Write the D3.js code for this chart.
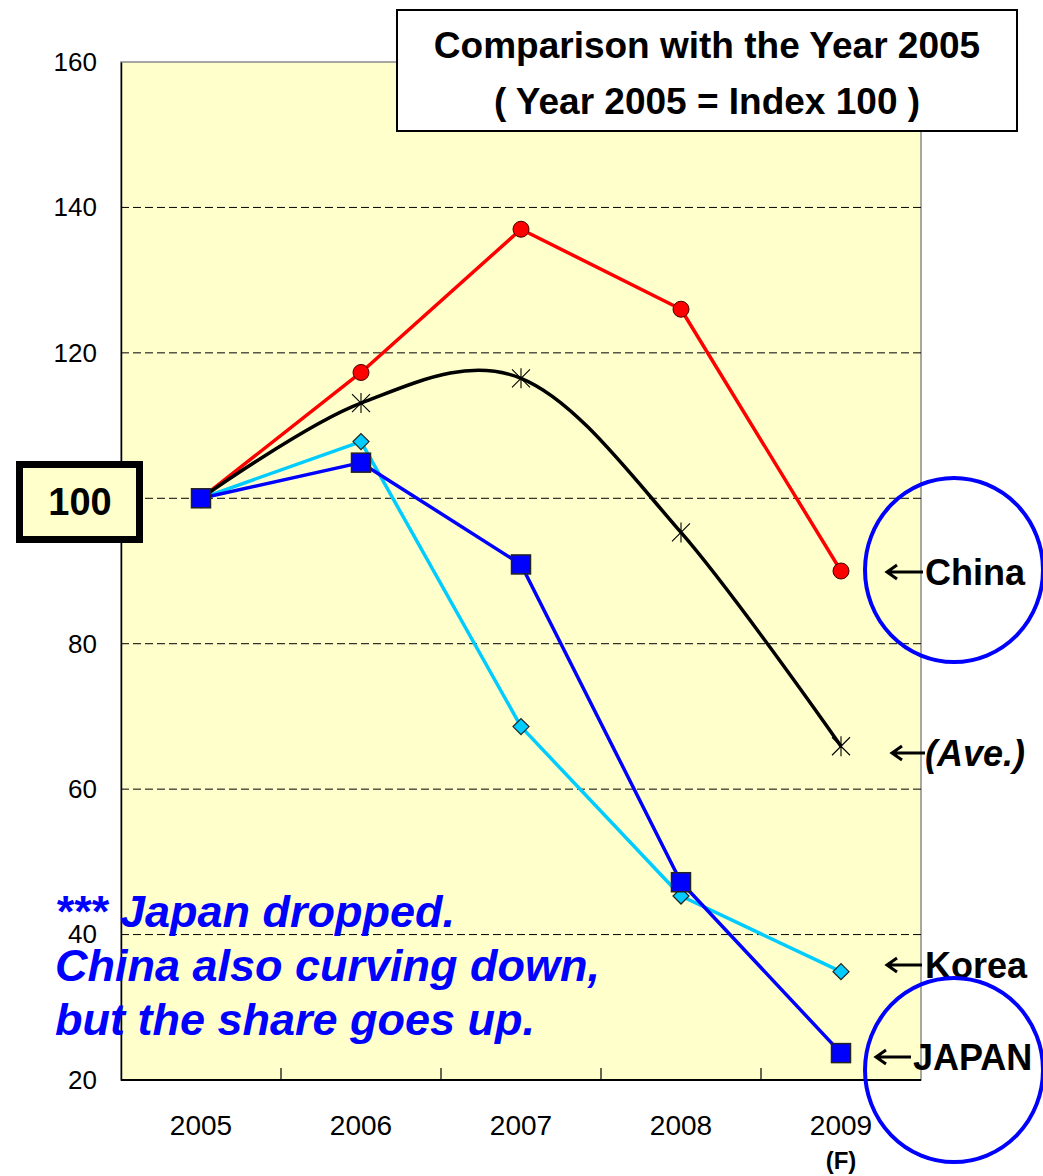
<!DOCTYPE html>
<html>
<head>
<meta charset="utf-8">
<script src="https://cdn.jsdelivr.net/npm/d3@7"></script>
<style>
  body { margin: 0; background: #fff; }
  svg { display: block; font-family: "Liberation Sans", Arial, sans-serif; }
</style>
</head>
<body>
<svg id="chart" width="1043" height="1176"></svg>
<script>
// values
const years = ["2005", "2006", "2007", "2008", "2009"];
const china = [100, 117.3, 137.0, 126.0, 90.0];
const average = [100, 113.1, 116.5, 95.3, 65.9];
const korea = [100, 107.8, 68.6, 45.3, 34.9];
const japan = [100, 104.9, 90.9, 47.2, 23.7];
const yTicks = [20, 40, 60, 80, 100, 120, 140, 160];
const gridTicks = [40, 60, 80, 100, 120, 140];

const svg = d3.select("#chart");
const margin = { top: 62, right: 122, bottom: 96, left: 121 };
const width = 1043, height = 1176;
const innerWidth = width - margin.left - margin.right;
const innerHeight = height - margin.top - margin.bottom;

const x = d3.scaleBand().domain(years).range([0, innerWidth]);
const y = d3.scaleLinear().domain([20, 160]).range([innerHeight, 0]);
const cx = d => x(d) + x.bandwidth() / 2;

const g = svg.append("g").attr("transform", `translate(${margin.left},${margin.top})`);

// plot background + gray frame
g.append("rect")
  .attr("width", innerWidth)
  .attr("height", innerHeight)
  .style("fill", "#ffffcc")
  .style("stroke", "#8a8a8a")
  .style("stroke-width", 1.5);

// dashed gridlines
g.append("g")
  .selectAll("line")
  .data(gridTicks)
  .join("line")
  .attr("x1", 0)
  .attr("x2", innerWidth)
  .attr("y1", d => y(d))
  .attr("y2", d => y(d))
  .style("stroke", "#000")
  .style("stroke-width", 1)
  .style("stroke-dasharray", "8,4");

// y axis (labels only, solid line)
const yAxisG = g.append("g").call(d3.axisLeft(y).tickValues(yTicks).tickSize(0).tickPadding(24));
yAxisG.select(".domain").style("stroke", "#000").style("stroke-width", 1.5);
yAxisG.selectAll("text")
  .style("font-size", "26px")
  .style("font-family", "'Liberation Sans', Arial, sans-serif")
  .style("fill", "#000");

// x axis, ticks between categories pointing inward
const xAxisG = g.append("g").attr("transform", `translate(0,${innerHeight})`);
xAxisG.append("line")
  .attr("x1", 0).attr("x2", innerWidth)
  .style("stroke", "#000").style("stroke-width", 2);
xAxisG.selectAll("line.tick")
  .data(years.slice(1))
  .join("line")
  .attr("class", "tick")
  .attr("x1", d => x(d)).attr("x2", d => x(d))
  .attr("y1", 0).attr("y2", -12)
  .style("stroke", "#000").style("stroke-width", 1.2);
xAxisG.selectAll("text.lab")
  .data(years)
  .join("text")
  .attr("class", "lab")
  .attr("x", d => cx(d))
  .attr("y", 55)
  .attr("text-anchor", "middle")
  .style("font-size", "28px")
  .text(d => d);
xAxisG.append("text")
  .attr("x", cx("2009"))
  .attr("y", 89)
  .attr("text-anchor", "middle")
  .style("font-size", "24px")
  .style("font-weight", "bold")
  .text("(F)");

// series
const series = [
  { name: "Korea", values: korea, color: "#00ccff", marker: "diamond", curve: d3.curveLinear },
  { name: "China", values: china, color: "#ff0000", marker: "circle", curve: d3.curveLinear },
  { name: "Average", values: average, color: "#000000", marker: "star", curve: d3.curveCardinal.tension(0) },
  { name: "Japan", values: japan, color: "#0000ff", marker: "square", curve: d3.curveLinear }
];

const linesG = g.append("g");
series.forEach(s => {
  const pts = years.map((yr, i) => [cx(yr), y(s.values[i])]);
  linesG.append("path")
    .attr("d", d3.line().curve(s.curve)(pts))
    .style("fill", "none")
    .style("stroke", s.color)
    .style("stroke-width", 3.5)
    .style("stroke-linejoin", "round");
});

const markG = g.append("g");
series.forEach(s => {
  const sel = markG.append("g").selectAll("g")
    .data(years.map((yr, i) => ({ yr, v: s.values[i] })))
    .join("g")
    .attr("transform", d => `translate(${cx(d.yr)},${y(d.v)})`);
  if (s.marker === "circle") {
    sel.append("circle").attr("r", 8)
      .style("fill", s.color).style("stroke", "#400").style("stroke-width", 1);
  } else if (s.marker === "diamond") {
    sel.append("path").attr("d", "M0,-8L8,0L0,8L-8,0Z")
      .style("fill", s.color).style("stroke", "#222").style("stroke-width", 1.2);
  } else if (s.marker === "square") {
    sel.append("rect").attr("x", -9.5).attr("y", -9.5).attr("width", 19).attr("height", 19)
      .style("fill", s.color).style("stroke", "#222").style("stroke-width", 1.5);
  } else if (s.marker === "star") {
    sel.append("path").attr("d", "M-9,-9L9,9M-9,9L9,-9M0,-10L0,10")
      .style("fill", "none").style("stroke", "#000").style("stroke-width", 1.1);
  }
});

// title box
const titleG = svg.append("g");
titleG.append("rect")
  .attr("x", 397).attr("y", 10).attr("width", 620).attr("height", 121)
  .style("fill", "#fff").style("stroke", "#000").style("stroke-width", 2);
const titleLines = ["Comparison with the Year 2005", "( Year 2005 = Index 100 )"];
titleG.selectAll("text")
  .data(titleLines)
  .join("text")
  .attr("x", 707)
  .attr("y", (d, i) => 58 + i * 56)
  .attr("text-anchor", "middle")
  .style("font-size", "37px")
  .style("font-weight", "bold")
  .text(d => d);

// "100" callout box
svg.append("rect")
  .attr("x", 19.5).attr("y", 464.5).attr("width", 120).attr("height", 75)
  .style("fill", "#ffffcc").style("stroke", "#000").style("stroke-width", 7);
svg.append("text")
  .attr("x", 80).attr("y", 515)
  .attr("text-anchor", "middle")
  .style("font-size", "38px")
  .style("font-weight", "bold")
  .text("100");

// right-side labels with arrows
const labels = [
  { text: "China", y0: 572, ax1: 887, ax2: 923, tx: 925, italic: false },
  { text: "(Ave.)", y0: 753, ax1: 892, ax2: 925, tx: 925, italic: true },
  { text: "Korea", y0: 965, ax1: 887, ax2: 922, tx: 925, italic: false },
  { text: "JAPAN", y0: 1057, ax1: 876, ax2: 911, tx: 913, italic: false }
];
const labG = svg.append("g");
labels.forEach(l => {
  labG.append("path")
    .attr("d", `M${l.ax2},${l.y0}H${l.ax1 + 1}M${l.ax1 + 10},${l.y0 - 7}L${l.ax1},${l.y0}L${l.ax1 + 10},${l.y0 + 7}`)
    .style("fill", "none").style("stroke", "#000").style("stroke-width", 3);
  labG.append("text")
    .attr("x", l.tx).attr("y", l.y0 + 13)
    .style("font-size", "36px")
    .style("font-weight", "bold")
    .style("font-style", l.italic ? "italic" : "normal")
    .text(l.text);
});

// blue rings
const rings = [{ cx: 954, cy: 570 }, { cx: 954, cy: 1070 }];
svg.append("g").selectAll("ellipse")
  .data(rings)
  .join("ellipse")
  .attr("cx", d => d.cx).attr("cy", d => d.cy)
  .attr("rx", 89).attr("ry", 92)
  .style("fill", "none").style("stroke", "#0000ff").style("stroke-width", 4);

// annotation
const note = ["*** Japan dropped.", "China also curving down,", "but the share goes up."];
svg.append("g").selectAll("text")
  .data(note)
  .join("text")
  .attr("x", 55)
  .attr("y", (d, i) => 927 + i * 54)
  .style("font-size", "45px")
  .style("font-weight", "bold")
  .style("font-style", "italic")
  .style("fill", "#0000ff")
  .text(d => d);
</script>
</body>
</html>
